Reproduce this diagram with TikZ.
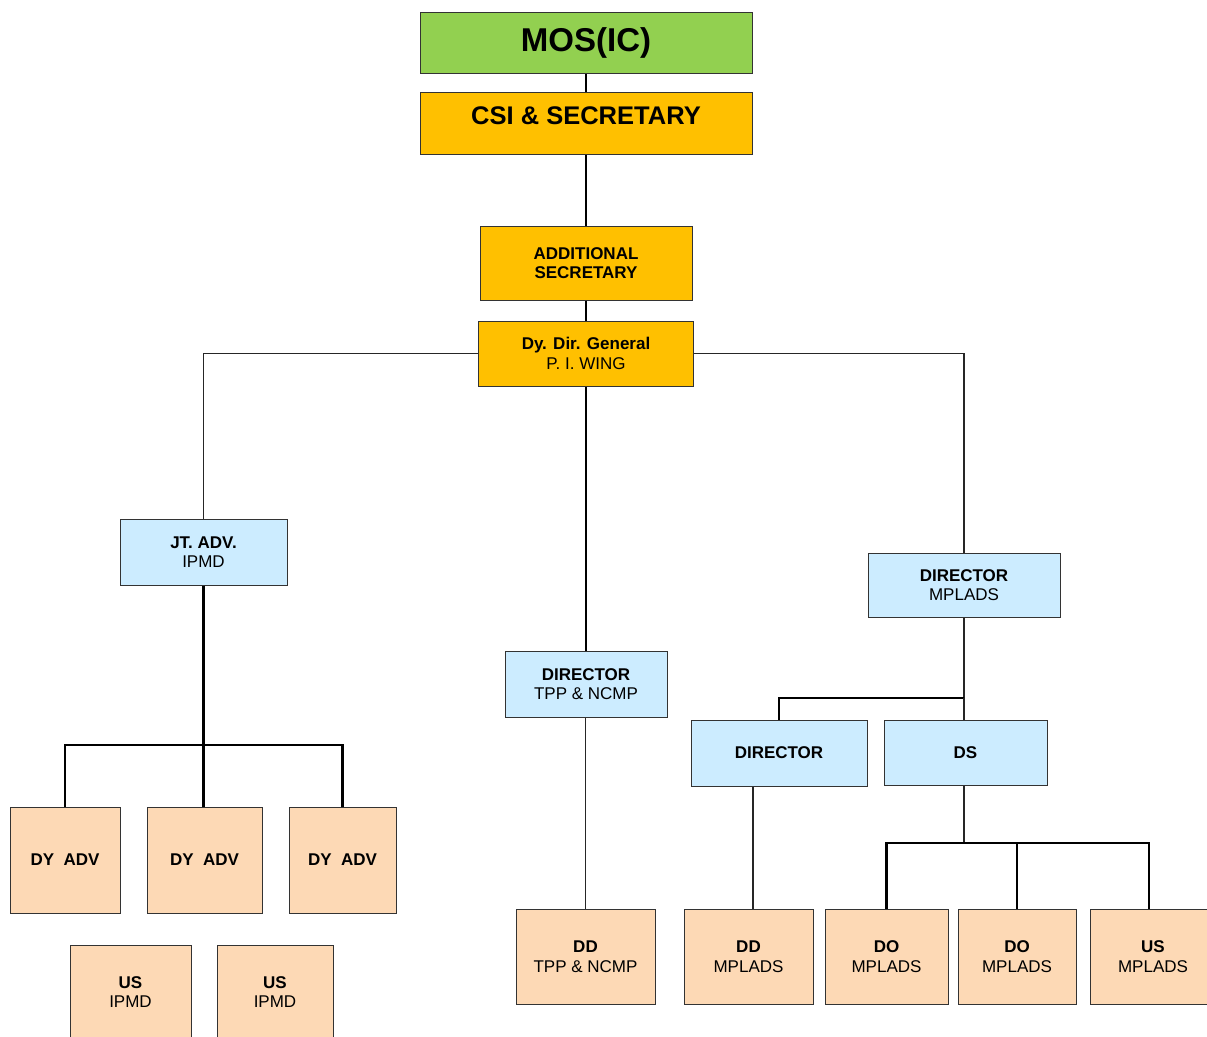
\documentclass[tikz,border=0pt]{standalone}
\usepackage{fontspec}
\setmainfont{Liberation Sans}
\definecolor{gfill}{HTML}{92D050}
\definecolor{ofill}{HTML}{FFC000}
\definecolor{bfill}{HTML}{CCECFF}
\definecolor{pfill}{HTML}{FDD9B5}
\definecolor{edge}{HTML}{333333}
\tikzset{
  box/.style={draw=edge, line width=1pt, inner sep=0pt, align=center,
    font=\fontsize{17}{19.5}\selectfont},
  lbl/.style={inner sep=0pt, align=center, font=\fontsize{17}{19.5}\selectfont},
  gbox/.style={box, fill=gfill},
  obox/.style={box, fill=ofill},
  bbox/.style={box, fill=bfill},
  pbox/.style={box, fill=pfill},
  thk/.style={line width=2.2pt, draw=black},
  thn/.style={line width=1.1pt, draw=black!85},
}
\begin{document}
\begin{tikzpicture}[x=1pt,y=-1pt]
\clip (0,0) rectangle (1207,1036);
\useasboundingbox (0,0) rectangle (1207,1036);
\fill[white] (0,0) rectangle (1207,1036);

% top chain
\node[gbox, minimum width=332pt, minimum height=61pt, font=\fontsize{33}{36}\selectfont\bfseries] (mos) at (586,42.5) {MOS(IC)};
\node[obox, minimum width=332pt, minimum height=62pt] (csi) at (586,123) {};
\node[lbl, font=\fontsize{25.5}{28}\selectfont\bfseries] (csilbl) at (586,116) {CSI \& SECRETARY};
\node[obox, minimum width=212pt, minimum height=74pt] (add) at (586,263) {\textbf{ADDITIONAL}\\\textbf{SECRETARY}};
\node[obox, minimum width=215pt, minimum height=65pt] (dy) at (586,353.5) {\textbf{Dy. Dir. General}\\P. I. WING};

% second level
\node[bbox, minimum width=167pt, minimum height=66pt] (jt) at (203.5,552) {\textbf{JT. ADV.}\\IPMD};
\node[bbox, minimum width=192pt, minimum height=64pt] (dirm) at (964,585) {\textbf{DIRECTOR}\\MPLADS};
\node[bbox, minimum width=162pt, minimum height=66pt] (dirt) at (586,684) {\textbf{DIRECTOR}\\TPP \& NCMP};
\node[bbox, minimum width=176pt, minimum height=66pt] (dir) at (779,753) {\textbf{DIRECTOR}};
\node[bbox, minimum width=163pt, minimum height=65pt] (ds) at (965.5,752.5) {\textbf{DS}};

% left branch
\node[pbox, minimum width=110pt, minimum height=106pt] (dy1) at (65,860) {\textbf{DY\ \ ADV}};
\node[pbox, minimum width=115pt, minimum height=106pt] (dy2) at (204.5,860) {\textbf{DY\ \ ADV}};
\node[pbox, minimum width=107pt, minimum height=106pt] (dy3) at (342.5,860) {\textbf{DY\ \ ADV}};
\node[pbox, minimum width=121pt, minimum height=135pt] (us1) at (130.5,1012.5) {};
\node[lbl] (us1lbl) at (130.5,992) {\textbf{US}\\IPMD};
\node[pbox, minimum width=116pt, minimum height=135pt] (us2) at (275,1012.5) {};
\node[lbl] (us2lbl) at (275,992) {\textbf{US}\\IPMD};

% bottom row
\node[pbox, minimum width=139pt, minimum height=95pt] (ddt) at (585.5,956.5) {\textbf{DD}\\TPP \& NCMP};
\node[pbox, minimum width=129pt, minimum height=95pt] (ddm) at (748.5,956.5) {\textbf{DD}\\MPLADS};
\node[pbox, minimum width=123pt, minimum height=95pt] (do1) at (886.5,956.5) {\textbf{DO}\\MPLADS};
\node[pbox, minimum width=118pt, minimum height=95pt] (do2) at (1017,956.5) {\textbf{DO}\\MPLADS};
\node[pbox, minimum width=140pt, minimum height=95pt] (usm) at (1160,956.5) {};
\node[lbl] (usmlbl) at (1153,956.5) {\textbf{US}\\MPLADS};

% junctions
\coordinate (jb) at (203.5,745);
\coordinate (mj) at (964,698);
\coordinate (dj) at (964,843);
\coordinate (usmtop) at (1149,909);
\coordinate (ddmtop) at (753,909);

% connectors
\draw[thk] (mos.south) -- (csi.north);
\draw[thk] (csi.south) -- (add.north);
\draw[thk] (add.south) -- (dy.north);
\draw[thn] (dy.west) -| (jt.north);
\draw[thn] (dy.east) -| (dirm.north);
\draw[thk] (dy.south) -- (dirt.north);

\draw[thk] (jt.south) -- (jb);
\draw[thk] (jb) -| (dy1.north);
\draw[thk] (jb) -| (dy3.north);
\draw[thk] (jb) -- (jb |- dy2.north);

\draw[thn] (ddt.north |- dirt.south) -- (ddt.north);

\draw[thn] (dirm.south) -- (mj);
\draw[thk] (mj) -| (dir.north);
\draw[thn] (mj) -- (mj |- ds.north);
\draw[thn] (ddmtop |- dir.south) -- (ddmtop);

\draw[thn] (dj |- ds.south) -- (dj);
\draw[thk] (dj) -| (do1.north);
\draw[thk] (dj) -| (usmtop);
\draw[thk] (dj -| do2.north) -- (do2.north);
\end{tikzpicture}
\end{document}
